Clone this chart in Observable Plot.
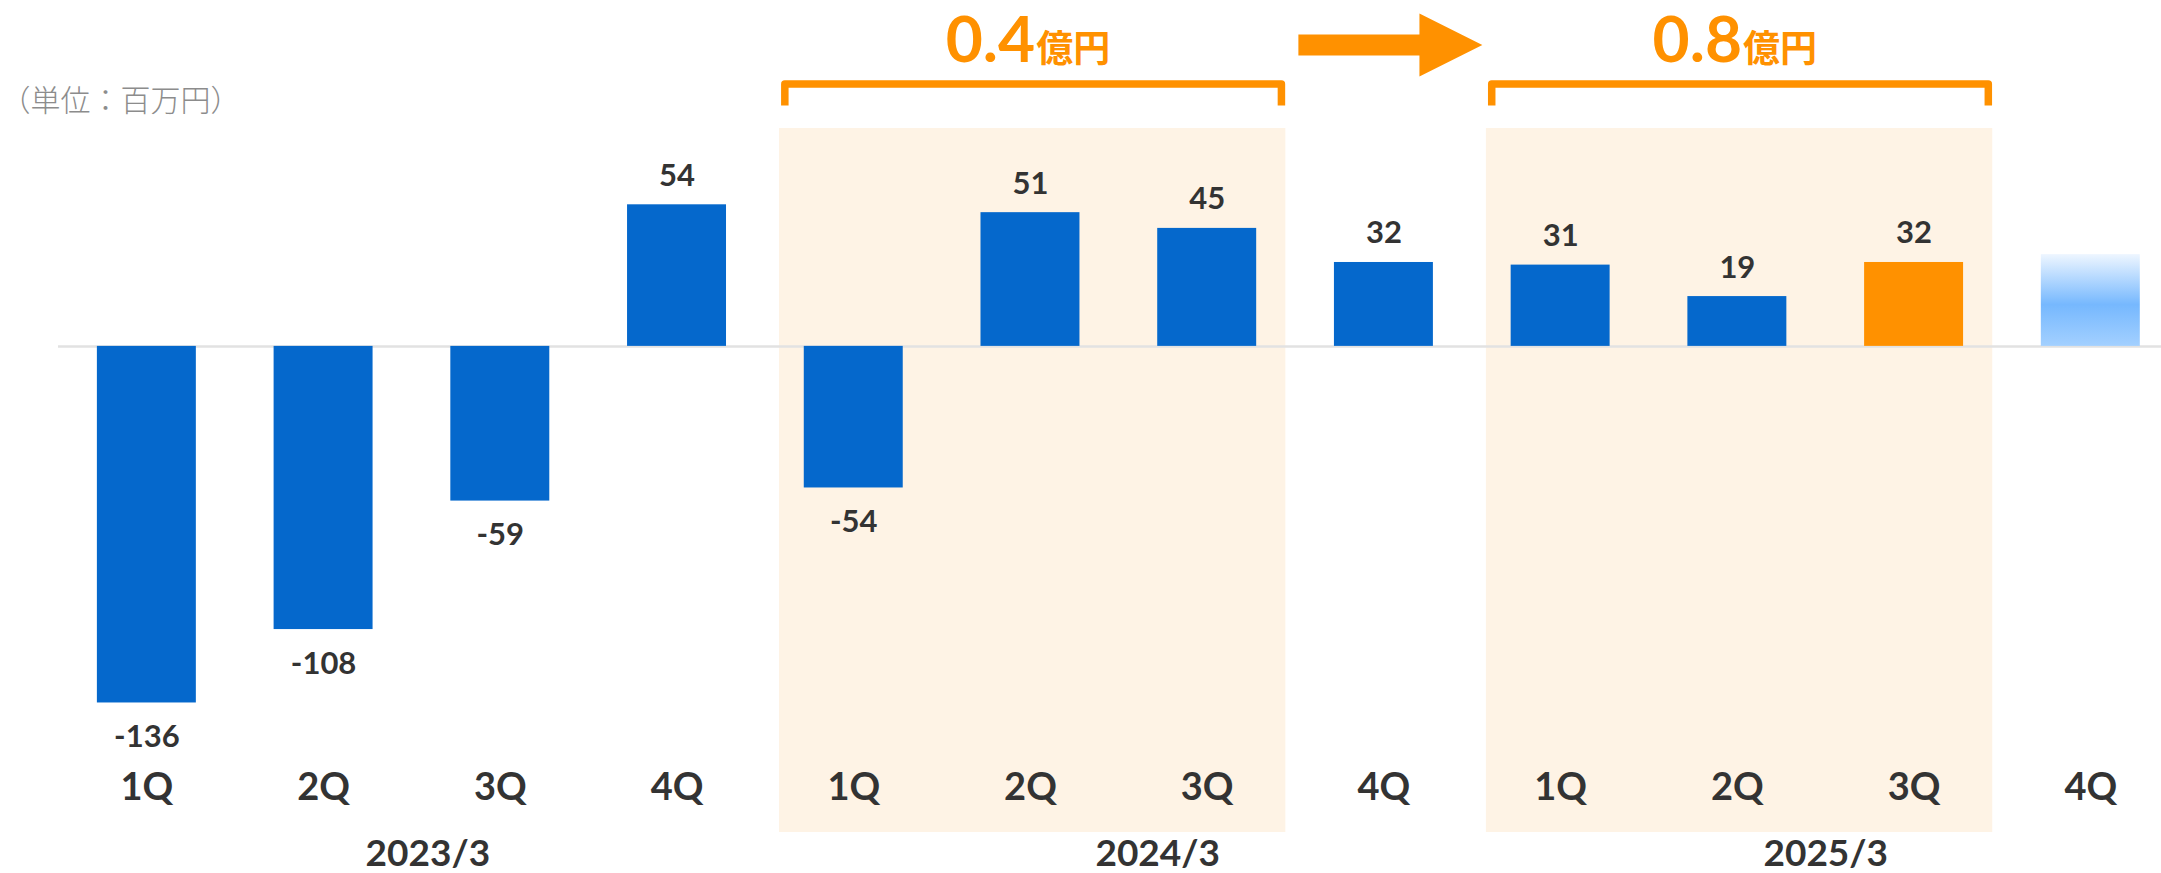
<!DOCTYPE html>
<html>
<head>
<meta charset="utf-8">
<script src="https://cdn.jsdelivr.net/npm/d3@7"></script>
<script src="https://cdn.jsdelivr.net/npm/@observablehq/plot@0.6"></script>
<style>
  html, body { margin: 0; padding: 0; background: #ffffff; }
  svg { display: block; }
</style>
</head>
<body>
<div id="chart"></div>
<script>
// ---- data ----
const quarters = ["1Q", "2Q", "3Q", "4Q", "1Q", "2Q", "3Q", "4Q", "1Q", "2Q", "3Q", "4Q"];
const fiscalYearOf = ["2023/3", "2023/3", "2023/3", "2023/3", "2024/3", "2024/3", "2024/3", "2024/3", "2025/3", "2025/3", "2025/3", "2025/3"];
const values = [-136, -108, -59, 54, -54, 51, 45, 32, 31, 19, 32, 35];
const valueLabels = ["-136", "-108", "-59", "54", "-54", "51", "45", "32", "31", "19", "32", ""];
const barKinds = ["actual", "actual", "actual", "actual", "actual", "actual", "actual", "actual", "actual", "actual", "current", "forecast"];
const yearLabels = ["2023/3", "2024/3", "2025/3"];
const yearLabelAt = [1.59, 5.72, 9.5];          // label positions along the quarter index
const groupTotals = ["0.4", "0.8"];
const groupUnit = "億円";
const groupFirst = [4, 8];
const groupLast = [6, 10];
const unitLabel = "（単位：百万円）";

// ---- styles ----
const BLUE = "#0568CC";
const ORANGE = "#FF9100";
const HIGHLIGHT = "#FEF3E5";
const TEXT = "#333333";
const fills = {actual: BLUE, current: ORANGE, forecast: "url(#forecastGrad)"};

const yMin = -185.4, yMax = 83.1;

const bars = values.map((v, i) => ({i, q: quarters[i], fy: fiscalYearOf[i], v, kind: barKinds[i], label: valueLabels[i]}));
const groups = groupTotals.map((t, k) => ({k, total: t, first: groupFirst[k], last: groupLast[k]}));

// annotation geometry (in scale units)
const legBottom = 91.9, barTopY = 100.1, totalY = 108.3;
const bracketPts = groups.flatMap(g => [
  {g: g.k, x: g.first - 0.39, y: legBottom},
  {g: g.k, x: g.first - 0.39, y: barTopY},
  {g: g.k, x: g.last + 0.42, y: barTopY},
  {g: g.k, x: g.last + 0.42, y: legBottom}
]);
const groupCenter = g => (g.first - 0.39 + g.last + 0.42) / 2;
const arrowPts = [
  {x: 6.516, y: 118.96}, {x: 7.201, y: 118.96}, {x: 7.201, y: 126.97},
  {x: 7.557, y: 114.95}, {x: 7.201, y: 102.9}, {x: 7.201, y: 110.9}, {x: 6.516, y: 110.9}
];

const gradientDefs = () => {
  const defs = d3.create("svg:defs");
  const g = defs.append("linearGradient").attr("id", "forecastGrad")
    .attr("x1", 0).attr("x2", 0).attr("y1", 0).attr("y2", 1);
  g.append("stop").attr("offset", "0%").attr("stop-color", "#EEF6FF");
  g.append("stop").attr("offset", "55%").attr("stop-color", "#76B8FE");
  g.append("stop").attr("offset", "100%").attr("stop-color", "#A3D0FF");
  return defs.node();
};

const chart = Plot.plot({
  width: 2161,
  height: 873,
  marginLeft: 58,
  marginRight: 0,
  marginTop: 128,
  marginBottom: 41,
  x: {domain: [-0.5, 11.4]},
  y: {domain: [yMin, yMax], axis: null},
  style: {fontFamily: "Lato, 'Noto Sans CJK JP', sans-serif", background: "#ffffff", overflow: "visible"},
  marks: [
    gradientDefs,
    // highlighted periods
    Plot.rect(groups, {x1: d => d.first - 0.42, x2: d => d.last + 0.445, y1: () => yMin, y2: () => yMax, fill: HIGHLIGHT}),
    // zero line
    Plot.ruleY([0], {stroke: "#E2E2E2", strokeWidth: 2.5}),
    // bars
    Plot.rectY(bars.filter(d => d.kind === "actual"), {x1: d => d.i - 0.28, x2: d => d.i + 0.28, y: "v", fill: fills.actual}),
    Plot.rectY(bars.filter(d => d.kind === "current"), {x1: d => d.i - 0.28, x2: d => d.i + 0.28, y: "v", fill: fills.current}),
    Plot.rectY(bars.filter(d => d.kind === "forecast"), {x1: d => d.i - 0.28, x2: d => d.i + 0.28, y: "v", fill: fills.forecast}),
    // value labels
    Plot.text(bars.filter(d => d.label && d.v > 0), {x: "i", y: "v", text: "label", dy: -19, lineAnchor: "bottom", fontSize: 31, fontWeight: 700, fill: TEXT}),
    Plot.text(bars.filter(d => d.label && d.v < 0), {x: "i", y: "v", text: "label", dy: 44, lineAnchor: "bottom", fontSize: 31, fontWeight: 700, fill: TEXT}),
    // quarter axis
    Plot.axisX({ticks: d3.range(quarters.length), tickFormat: i => quarters[i], tickSize: 0, tickPadding: -59, fontSize: 38, fontWeight: 700, fill: TEXT, label: null}),
    // fiscal year labels
    Plot.text(yearLabels, {x: (d, i) => yearLabelAt[i], text: d => d, frameAnchor: "bottom", dy: 33, lineAnchor: "bottom", fontSize: 37, fontWeight: 700, fill: TEXT}),
    // brackets
    Plot.line(bracketPts, {x: "x", y: "y", z: "g", stroke: ORANGE, strokeWidth: 7.5, strokeLinejoin: "round", strokeLinecap: "butt"}),
    // totals
    Plot.text(groups, {x: groupCenter, y: () => totalY, text: "total", textAnchor: "end", dx: 2, lineAnchor: "bottom", fontSize: 64, fontWeight: 700, fill: ORANGE}),
    Plot.text(groups, {x: groupCenter, y: () => totalY, text: () => groupUnit, textAnchor: "start", dx: 3, lineAnchor: "bottom", fontSize: 37, fontWeight: 700, fill: ORANGE, fontFamily: "'Noto Sans CJK JP', sans-serif"}),
    // arrow
    Plot.line(arrowPts, {x: "x", y: "y", fill: ORANGE, stroke: "none"}),
    // unit label
    Plot.text([unitLabel], {text: d => d, frameAnchor: "top-left", dx: -58, dy: -18, textAnchor: "start", lineAnchor: "bottom", fontSize: 30, fontWeight: 300, fill: "#8C8C8C", fontFamily: "'Noto Sans CJK JP', sans-serif"})
  ]
});

document.getElementById("chart").appendChild(chart);
</script>
</body>
</html>
